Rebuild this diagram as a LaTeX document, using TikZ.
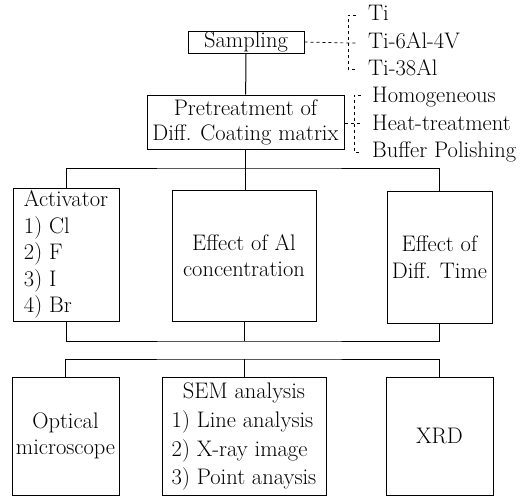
\documentclass[tikz,border=0pt]{standalone}
\usepackage{fontspec}
\usetikzlibrary{positioning,calc}

\begin{document}
\begin{tikzpicture}[x=1pt,y=-1pt,font=\fontsize{22.5}{26.5}\selectfont,
  bx/.style={draw,line width=1pt,inner sep=0pt,align=center},
  ln/.style={line width=1pt},
  dsh/.style={line width=0.7pt,dash pattern=on 3pt off 3pt},
  lbl/.style={anchor=west,inner sep=0pt,text height=15pt,text depth=4pt}]
\useasboundingbox (0,0) rectangle (531,498);
% top of the chart
\node[bx,minimum width=116pt,minimum height=22pt] (samp) at (246,42) {Sampling};
\node[bx,minimum width=197pt,minimum height=54pt,font=\fontsize{22.5}{25}\selectfont]
  (pre) at (245.5,122) {Pretreatment of\\Diff. Coating matrix};
% alloys
\node[lbl] (ti)   at (368,15) {Ti};
\node[lbl] (tiv)  at (368,43) {Ti-6Al-4V};
\node[lbl] (tial) at (368,70) {Ti-38Al};
\coordinate (brA) at (348,43);
\draw[dsh] (samp.east) -- (brA) -- ++(9,0);
\draw[dsh] (356,15) -- (348,15) -- (348,69) -- (356,69);
% pretreatment steps
\node[lbl] (hom)  at (372,97)  {Homogeneous};
\node[lbl] (heat) at (372,125) {Heat-treatment};
\node[lbl] (buf)  at (372,152) {Buffer Polishing};
\coordinate (brB) at (354,123);
\draw[dsh] (pre.east |- brB) -- (brB) -- ++(7,0);
\draw[dsh] (361,95) -- (354,95) -- (354,152) -- (361,152);
% parameters
\node[bx,minimum width=106pt,minimum height=133pt,align=left] (act) at (66,254.5)
  {Activator\\1) Cl\\2) F\\3) I\\4) Br};
\node[bx,minimum width=144pt,minimum height=131pt] (al) at (244,255.5)
  {Effect of Al\\concentration};
\node[bx,minimum width=105pt,minimum height=132pt] (dtm) at (439.5,257)
  {Effect of\\Diff. Time};
% analysis
\node[bx,minimum width=107pt,minimum height=118pt] (opt) at (65.5,436)
  {Optical\\microscope};
\node[bx,minimum width=164pt,minimum height=118pt,font=\fontsize{22.5}{28.7}\selectfont]
  (sem) at (244,436) {\begin{tabular}{@{}l@{}}\multicolumn{1}{@{}c@{}}{SEM analysis}\\
  1) Line analysis\\2) X-ray image\\3) Point anaysis\end{tabular}};
\node[bx,minimum width=107pt,minimum height=118pt] (xrd) at (439.5,436) {XRD};
% connectors
\coordinate (busA) at (245.5,168);
\coordinate (busB) at (246,341);
\coordinate (busC) at (246,359);
\draw[ln] (samp) -- (pre);
\draw[ln] (pre.south) -- (pre.south |- al.north);
\draw[ln] (act.north) |- (busA) -| (dtm.north);
\draw[ln] (act.south) |- (busB) -| (dtm.south);
\draw[ln] (al.south) -- (al.south |- busB);
\draw[ln] (opt.north) |- (busC) -| (xrd.north);
\draw[ln] (sem.north) -- (sem.north |- busC);
\end{tikzpicture}
\end{document}
